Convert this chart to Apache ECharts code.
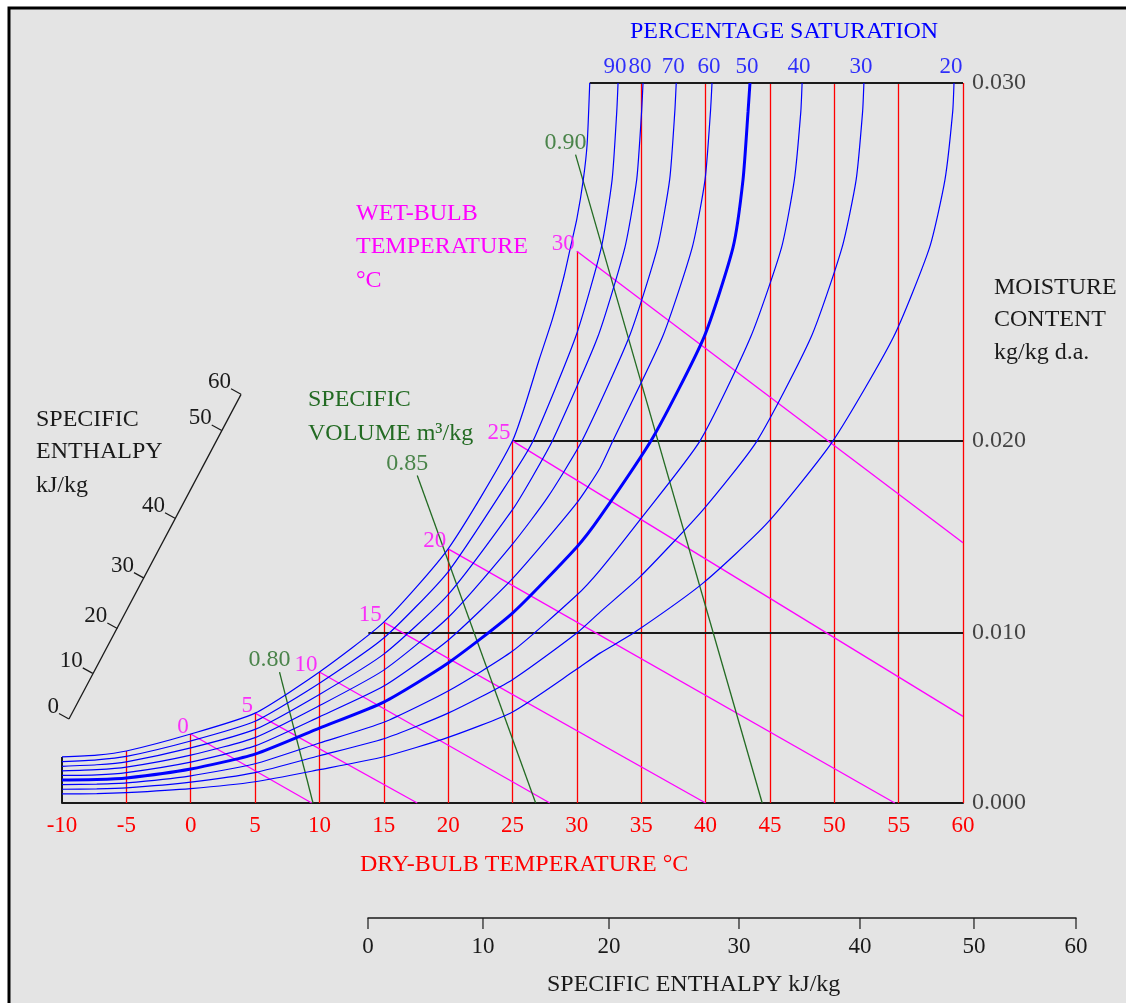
<!DOCTYPE html>
<html>
<head>
<meta charset="utf-8">
<title>Psychrometric chart</title>
<script src="https://cdn.jsdelivr.net/npm/echarts/dist/echarts.min.js"></script>
<style>
  html, body { margin: 0; padding: 0; background: #fff; }
  #chart { width: 1126px; height: 1003px; }
</style>
</head>
<body>
<div id="chart"></div>
<script>
// ---- scales -------------------------------------------------------------
// the vertical scale of this chart is not linear: moistTickFrac is how far up
// the plot each labelled moisture content sits
const moistTicks = [0, 0.010, 0.020, 0.030];
const moistTickFrac = [0, 0.236, 0.503, 1];
// dry-bulb lines, °C
const dryBulbLines = [-5, 0, 5, 10, 15, 20, 25, 30, 35, 40, 45, 50, 55, 60];
// enthalpy scale ticks (kJ/kg), bottom scale is not linear either
const enthTicks = [0, 10, 20, 30, 40, 50, 60];
const enthTickFrac = [0, 0.1624, 0.3404, 0.5240, 0.6949, 0.8559, 1];
// where each tick of the slanted enthalpy scale sits, [dry-bulb, moisture]
const slantTickAt = [[-9.46, 0.00494], [-7.61, 0.00763], [-5.70, 0.01024], [-3.63, 0.01286],
                     [-1.22, 0.01597], [2.41, 0.02029], [3.91, 0.0213]];

// ---- percentage saturation curves, [dry-bulb °C, moisture kg/kg] -------
const sat100 = [[-10, .00271], [-7.3, .00282], [-5, .00306], [0, .00406], [5, .00529], [10, .00771], [15, .01057],
  [20, .01438], [25, .0200], [27.1, .0223], [28.1, .0234], [29.0, .0246], [29.5, .0254], [30.0, .0262], [30.5, .0273],
  [30.8, .0283], [31.0, .0300]];
const sat90 = [[-10, .00244], [-7.3, .00254], [-5, .00274], [0, .00365], [5, .00481], [10, .00705], [15, .00971],
  [20, .01319], [25, .01821], [26.6, .0200], [29.9, .0229], [31.9, .0254], [32.74, .0273], [33.1, .0292], [33.2, .0300]];
const sat80 = [[-10, .00216], [-7.3, .00225], [-5, .00242], [0, .00324], [5, .00433], [10, .00639], [15, .00876],
  [20, .0120], [25, .01642], [26.5, .01807], [28.1, .0200], [31.62, .0229], [33.73, .0254], [34.65, .0273], [35.03, .0292], [35.14, .0300]];
const sat70 = [[-10, .00189], [-7.3, .00196], [-5, .00211], [0, .00282], [5, .00385], [10, .00573], [15, .00782],
  [20, .01081], [25, .01463], [27.7, .01703], [30.4, .0200], [34.06, .0229], [36.26, .0254], [37.21, .0273], [37.61, .0292], [37.72, .0300]];
const sat60 = [[-10, .00162], [-7.3, .00166], [-5, .00179], [0, .00241], [5, .00336], [10, .00507], [15, .00688],
  [20, .00958], [25, .01283], [30, .01677], [31.8, .01859], [32.8, .0200], [36.65, .0229], [38.96, .0254], [39.96, .0273], [40.38, .0292], [40.5, .0300]];
const sat50 = [[-10, .00135], [-7.3, .00138], [-5, .00147], [0, .0020], [5, .00288], [10, .00441], [15, .00594],
  [20, .00824], [25, .01104], [30, .01448], [31.8, .01604], [35.92, .0201], [39.88, .0229], [42.13, .0254], [42.91, .0273], [43.3, .0292], [43.45, .0300]];
const sat40 = [[-10, .00108], [-7.3, .00111], [-5, .00118], [0, .0016], [5, .00231], [10, .00353], [15, .00475],
  [20, .00659], [25, .00894], [30, .01198], [31.8, .01328], [34.9, .01589], [39.57, .0200], [43.5, .0229], [45.9, .0254], [46.9, .0273], [47.4, .0292], [47.5, .0300]];
const sat30 = [[-10, .00081], [-7.3, .00083], [-5, .00089], [0, .00123], [5, .00179], [10, .00278], [15, .00378],
  [20, .00529], [25, .00726], [30, .0100], [31.8, .01109], [34.9, .01292], [39.8, .01641], [44.0, .0200], [48.2, .0229], [50.6, .0254], [51.7, .0273], [52.2, .0292], [52.3, .0300]];
const sat20 = [[-10, .00054], [-7.3, .00055], [-5, .00061], [0, .00085], [5, .00125], [10, .00196], [15, .00272],
  [20, .00386], [25, .00536], [30, .00788], [31.8, .00882], [34.4, .0100], [39.8, .0126], [44.8, .01573], [49.9, .0200], [54.6, .0229], [57.4, .0254], [58.6, .0273], [59.2, .0292], [59.3, .0300]];
const pctCurves = [
  { pct: 100, data: sat100 }, { pct: 90, data: sat90 }, { pct: 80, data: sat80 }, { pct: 70, data: sat70 },
  { pct: 60, data: sat60 }, { pct: 50, data: sat50 }, { pct: 40, data: sat40 }, { pct: 30, data: sat30 }, { pct: 20, data: sat20 }
];

// ---- wet-bulb lines: start on saturation, end point ---------------------
const wetBulbTemps = [0, 5, 10, 15, 20, 25, 30];
const wetBulbStartW = [.00406, .00529, .00771, .01057, .01438, .0200, .0253];
const wetBulbEnds = [[9.4, 0], [17.6, 0], [27.9, 0], [40.0, 0], [54.7, 0], [60, .0051], [60, .0147]];

// ---- specific volume lines, m3/kg ---------------------------------------
const specVols = [0.80, 0.85, 0.90];
const specVolStarts = [[6.9, .0077], [17.6, .0182], [29.9, .0280]];
const specVolEnds = [[9.5, 0], [26.8, 0], [44.4, 0]];

// horizontal moisture lines start on the saturation curve
const moistLineStarts = [13.8, 25, 31.0];

// ---- helpers ------------------------------------------------------------
function interp(v, xs, ys) {
  for (let i = 1; i < xs.length; i++) {
    if (v <= xs[i] || i === xs.length - 1) {
      const t = (v - xs[i - 1]) / (xs[i] - xs[i - 1]);
      return ys[i - 1] + t * (ys[i] - ys[i - 1]);
    }
  }
}
const yOf = w => 0.030 * interp(w, moistTicks, moistTickFrac);
const pt = p => [p[0], yOf(p[1])];
const xOfEnth = e => 60 * interp(e, enthTicks, enthTickFrac);
// top end of a dry-bulb line: wet-bulb start, else saturation, else top of chart
function dryTop(t) {
  const k = wetBulbTemps.indexOf(t);
  if (k >= 0) return wetBulbStartW[k];
  const hit = sat100.find(p => p[0] === t);
  return hit ? hit[1] : 0.030;
}

const serif = '"Liberation Serif", "Times New Roman", serif';
const blue = '#0000ff', red = '#ff0000', pink = '#ff00ff', green = '#236b23', ink = '#1a1a1a';
const numSize = 23;

const chart = echarts.init(document.getElementById('chart'));

const series = [];

// red dry-bulb lines
series.push({
  type: 'lines', coordinateSystem: 'cartesian2d', silent: true, z: 2,
  lineStyle: { color: red, width: 1.3, opacity: 1 },
  data: dryBulbLines.map(t => ({ coords: [[t, 0], [t, yOf(dryTop(t))]] }))
});
// black: left edge and constant-moisture lines
series.push({
  type: 'lines', coordinateSystem: 'cartesian2d', silent: true, z: 3,
  lineStyle: { color: ink, width: 2, opacity: 1 },
  data: [{ coords: [[-10, 0], [-10, yOf(dryTop(-10))]] }].concat(
    moistLineStarts.map((t, i) => ({ coords: [[t, yOf(moistTicks[i + 1])], [60, yOf(moistTicks[i + 1])]] })))
});
// wet-bulb lines
series.push({
  type: 'lines', coordinateSystem: 'cartesian2d', silent: true, z: 4,
  lineStyle: { color: pink, width: 1.3, opacity: 1 },
  data: wetBulbTemps.map((t, i) => ({ coords: [pt([t, wetBulbStartW[i]]), pt(wetBulbEnds[i])] }))
});
// specific volume lines
series.push({
  type: 'lines', coordinateSystem: 'cartesian2d', silent: true, z: 4,
  lineStyle: { color: green, width: 1.3, opacity: 1 },
  data: specVols.map((v, i) => ({ coords: [pt(specVolStarts[i]), pt(specVolEnds[i])] }))
});
// percentage saturation curves
pctCurves.forEach(c => {
  series.push({
    type: 'line', data: c.data.map(pt), symbol: 'none', smooth: 0.2, silent: true, z: 5,
    lineStyle: { color: blue, width: c.pct === 50 ? 3 : 1.2 }
  });
});
// percentage labels at the top of each curve
series.push({
  type: 'scatter', symbolSize: 0, silent: true, z: 6,
  data: pctCurves.filter(c => c.pct < 100).map(c => ({ value: pt(c.data[c.data.length - 1]), name: String(c.pct) })),
  label: { show: true, position: 'top', distance: 5, offset: [-3, 0], formatter: '{b}', color: blue, fontSize: numSize, fontFamily: serif }
});
// wet-bulb labels
series.push({
  type: 'scatter', symbolSize: 0, silent: true, z: 6,
  data: wetBulbTemps.map((t, i) => ({ value: pt([t, wetBulbStartW[i]]), name: String(t) })),
  label: { show: true, position: [-2, 4], align: 'right', verticalAlign: 'bottom', formatter: '{b}', color: pink, fontSize: numSize, fontFamily: serif }
});
// specific volume labels
series.push({
  type: 'scatter', symbolSize: 0, silent: true, z: 6,
  data: specVols.map((v, i) => ({ value: pt(specVolStarts[i]), name: v.toFixed(2) })),
  label: { show: true, position: [-10, 0], align: 'center', verticalAlign: 'bottom', formatter: '{b}', color: green, fontSize: 24, fontFamily: serif }
});
// moisture content tick labels on the right
series.push({
  type: 'scatter', symbolSize: 0, silent: true, z: 6,
  data: moistTicks.map(w => ({ value: [60, yOf(w)], name: w.toFixed(3) })),
  label: { show: true, position: 'right', distance: 9, formatter: '{b}', color: ink, fontSize: 24, fontFamily: serif }
});
// slanted enthalpy scale
series.push({
  type: 'lines', coordinateSystem: 'cartesian2d', silent: true, z: 4,
  lineStyle: { color: ink, width: 1.3, opacity: 1 },
  data: [{ coords: [pt(slantTickAt[0]), pt(slantTickAt[slantTickAt.length - 1])] }]
});
series.push({
  type: 'custom', coordinateSystem: 'cartesian2d', silent: true, z: 4,
  data: slantTickAt.map((p, i) => [p[0], yOf(p[1]), enthTicks[i]]),
  renderItem: (params, api) => {
    const c = api.coord([api.value(0), api.value(1)]);
    return {
      type: 'group', children: [
        { type: 'line', shape: { x1: c[0], y1: c[1], x2: c[0] - 10, y2: c[1] - 5.5 }, style: { stroke: ink, lineWidth: 1.2 } },
        { type: 'text', style: { text: String(api.value(2)), x: c[0] - 10, y: c[1] - 1, align: 'right', verticalAlign: 'bottom',
          textAlign: 'right', textVerticalAlign: 'bottom', font: numSize + 'px ' + serif, fill: ink } }
      ]
    };
  }
});
// bottom enthalpy scale ticks
series.push({
  type: 'custom', coordinateSystem: 'cartesian2d', xAxisIndex: 1, yAxisIndex: 1, silent: true, z: 4,
  data: enthTicks.map(e => [xOfEnth(e), 1, e]),
  renderItem: (params, api) => {
    const c = api.coord([api.value(0), api.value(1)]);
    return {
      type: 'group', children: [
        { type: 'line', shape: { x1: c[0], y1: c[1], x2: c[0], y2: c[1] + 11 }, style: { stroke: ink, lineWidth: 1.2 } },
        { type: 'text', style: { text: String(api.value(2)), x: c[0], y: c[1] + 29, align: 'center', verticalAlign: 'middle',
          textAlign: 'center', textVerticalAlign: 'middle', font: numSize + 'px ' + serif, fill: ink } }
      ]
    };
  }
});

function txt(text, x, y, fill, align) {
  return {
    type: 'text', x: x, y: y, silent: true, z: 10,
    style: { text: text, fill: fill, font: '24px ' + serif, align: align || 'left', verticalAlign: 'middle',
             textAlign: align || 'left', textVerticalAlign: 'middle' }
  };
}

const option = {
  backgroundColor: '#ffffff',
  animation: false,
  textStyle: { fontFamily: serif },
  grid: [
    { left: 62, right: 163, top: 83, bottom: 200 },
    { left: 368, right: 50, top: 918, height: 20 }
  ],
  xAxis: [
    {
      type: 'value', min: -10, max: 60, interval: 5, gridIndex: 0,
      axisLine: { onZero: false, lineStyle: { color: ink, width: 2 } }, axisTick: { show: false }, splitLine: { show: false },
      axisLabel: { color: red, fontSize: numSize, fontFamily: serif, margin: 11 }
    },
    {
      type: 'value', min: 0, max: 60, gridIndex: 1, position: 'top',
      axisLine: { onZero: false, lineStyle: { color: ink, width: 1.5 } }, axisTick: { show: false }, splitLine: { show: false },
      axisLabel: { show: false }
    }
  ],
  yAxis: [
    { type: 'value', min: 0, max: 0.030, gridIndex: 0, show: false },
    { type: 'value', min: 0, max: 1, gridIndex: 1, show: false }
  ],
  graphic: [
    { type: 'rect', z: -100, silent: true, shape: { x: 9, y: 8, width: 1200, height: 1100 },
      style: { fill: '#e4e4e4', stroke: '#000', lineWidth: 3 } },
    txt('PERCENTAGE SATURATION', 784, 32, blue, 'center'),
    txt('WET-BULB', 356, 214, pink), txt('TEMPERATURE', 356, 247, pink), txt('°C', 356, 281, pink),
    txt('SPECIFIC', 308, 400, green), txt('VOLUME m³/kg', 308, 434, green),
    txt('SPECIFIC', 36, 420, ink), txt('ENTHALPY', 36, 452, ink), txt('kJ/kg', 36, 486, ink),
    txt('MOISTURE', 994, 288, ink), txt('CONTENT', 994, 320, ink), txt('kg/kg d.a.', 994, 353, ink),
    txt('DRY-BULB TEMPERATURE °C', 360, 865, red),
    txt('SPECIFIC ENTHALPY kJ/kg', 547, 985, ink)
  ],
  series: series
};
chart.setOption(option);
</script>
</body>
</html>
